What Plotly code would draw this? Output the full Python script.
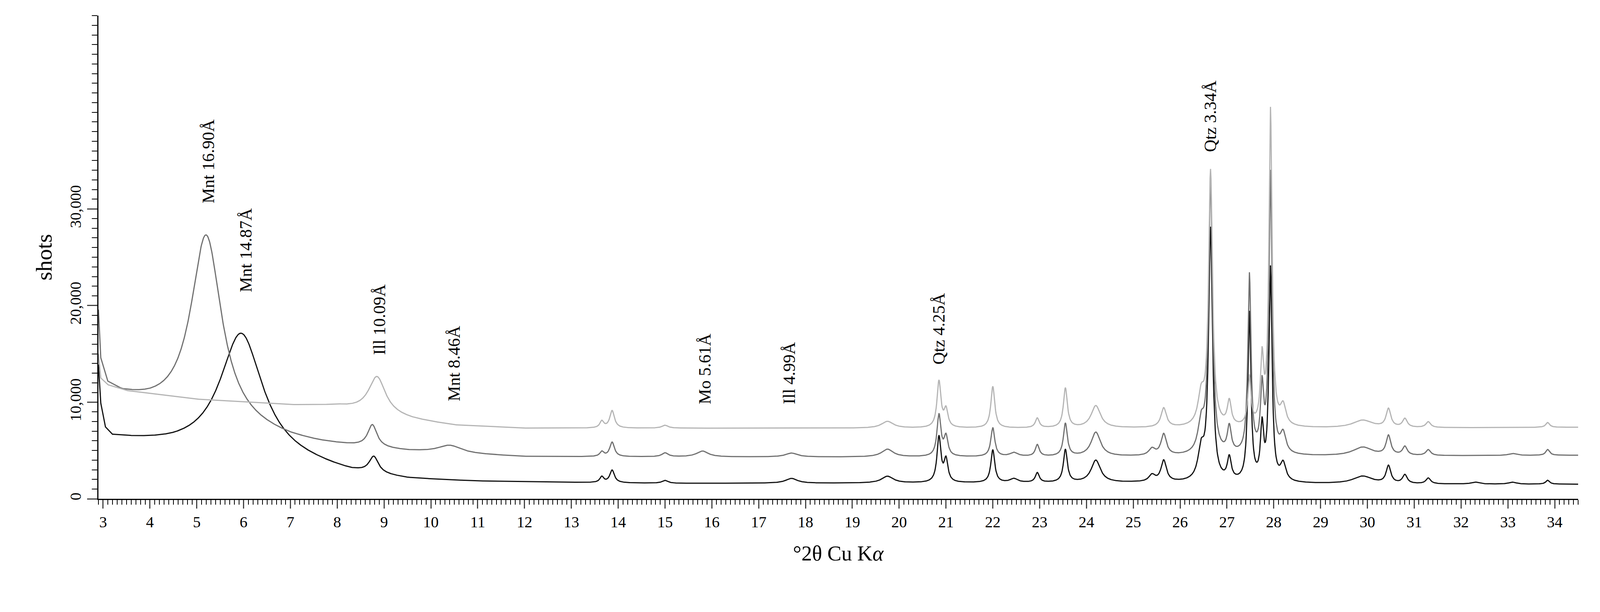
import numpy as np
import plotly.graph_objects as go

# --- data -----------------------------------------------------------------
x_start, x_end = 2.9, 34.5
ad_bg_x = [2.9, 2.95, 3.05, 3.2, 3.6, 4.5, 5.5, 6.5, 7.5, 8.3, 9.5, 11, 15, 20, 25, 30, 34.5]
ad_bg_y = [13500, 9500, 7000, 6200, 5900, 5300, 4800, 4200, 3300, 2500, 1900, 1700, 1550, 1600, 1650, 1500, 1500]
g_bg_x = [2.9, 2.95, 3.1, 3.4, 4.0, 5.0, 6.0, 7.0, 7.6, 8.3, 9.5, 12, 20, 30, 34.5]
g_bg_y = [19000, 14000, 11500, 10500, 9500, 8000, 7000, 6000, 5600, 5300, 4800, 4300, 4300, 4400, 4500]
h_bg_x = [2.9, 2.95, 3.1, 3.5, 5.0, 7.0, 8.0, 9.6, 10.5, 12, 20, 30, 34.5]
h_bg_y = [15000, 12500, 11800, 11200, 10300, 9700, 9600, 8200, 7600, 7300, 7300, 7300, 7400]

ad_pk_c = [5.95, 8.78, 13.65, 13.87, 15.0, 17.7, 19.75, 20.85, 21.0, 22.0, 22.45, 22.95, 23.55, 24.2, 25.4, 25.65, 26.45, 26.65, 27.05, 27.48, 27.75, 27.93, 28.2, 29.9, 30.45, 30.8, 31.3, 32.3, 33.1, 33.85]
ad_pk_h = [12600, 1700, 600, 1300, 300, 500, 700, 4700, 2300, 3400, 400, 1000, 3400, 2300, 700, 2200, 3000, 26000, 2300, 17400, 5400, 22000, 1800, 800, 1800, 900, 600, 200, 200, 400]
ad_pk_w = [0.55, 0.12, 0.05, 0.06, 0.08, 0.15, 0.15, 0.05, 0.05, 0.05, 0.1, 0.05, 0.05, 0.12, 0.08, 0.07, 0.08, 0.05, 0.05, 0.04, 0.04, 0.04, 0.07, 0.25, 0.06, 0.06, 0.06, 0.1, 0.1, 0.05]
g_pk_c = [5.2, 8.75, 10.4, 13.65, 13.87, 15.0, 15.8, 17.7, 19.75, 20.85, 21.0, 22.0, 22.45, 22.95, 23.55, 24.2, 25.4, 25.65, 26.45, 26.65, 27.05, 27.48, 27.75, 27.93, 28.2, 29.9, 30.45, 30.8, 31.3, 33.1, 33.85]
g_pk_h = [19500, 2300, 800, 500, 1500, 400, 600, 400, 800, 4300, 2000, 3000, 400, 1200, 3400, 2500, 700, 2200, 3000, 28000, 2700, 18500, 6500, 29000, 2000, 900, 2000, 900, 600, 200, 600]
g_pk_w = [0.4, 0.12, 0.3, 0.05, 0.06, 0.08, 0.15, 0.15, 0.15, 0.05, 0.05, 0.05, 0.1, 0.05, 0.05, 0.12, 0.08, 0.07, 0.08, 0.05, 0.05, 0.04, 0.04, 0.04, 0.07, 0.25, 0.06, 0.06, 0.06, 0.1, 0.05]
h_pk_c = [8.85, 13.65, 13.87, 15.0, 19.75, 20.85, 21.0, 22.0, 22.95, 23.55, 24.2, 25.65, 26.45, 26.65, 27.05, 27.48, 27.75, 27.93, 28.2, 29.9, 30.45, 30.8, 31.3, 33.85]
h_pk_h = [3800, 700, 1800, 300, 700, 4800, 1800, 4300, 1000, 4100, 2300, 2000, 3000, 26300, 2500, 5000, 6700, 32700, 2000, 800, 1900, 900, 600, 500]
h_pk_w = [0.22, 0.05, 0.06, 0.08, 0.15, 0.05, 0.05, 0.05, 0.05, 0.05, 0.12, 0.07, 0.08, 0.05, 0.05, 0.04, 0.04, 0.04, 0.07, 0.25, 0.06, 0.06, 0.06, 0.05]

series_names = ["AD", "G", "H"]
series_colors = ["#111111", "#707070", "#b4b4b4"]
label_y = [1300, 3400, 6100]

ann_text = ["Mnt 16.90Å", "Mnt 14.87Å", "Ill 10.09Å", "Mnt 8.46Å", "Mo 5.61Å", "Ill 4.99Å", "Qtz 4.25Å", "Qtz 3.34Å"]
ann_x = [5.25, 6.05, 8.9, 10.5, 15.85, 17.65, 20.85, 26.65]
ann_y = [30500, 21300, 14800, 10000, 9700, 9700, 13800, 35800]

# --- build ----------------------------------------------------------------
x = np.arange(x_start, x_end + 1e-9, 0.01)

def trace_y(bx, by, c, h, w):
    y = np.interp(x, bx, by)
    for ci, hi, wi in zip(c, h, w):
        y = y + hi * wi**2 / ((x - ci) ** 2 + wi**2)
    return y

ys = [trace_y(ad_bg_x, ad_bg_y, ad_pk_c, ad_pk_h, ad_pk_w),
      trace_y(g_bg_x, g_bg_y, g_pk_c, g_pk_h, g_pk_w),
      trace_y(h_bg_x, h_bg_y, h_pk_c, h_pk_h, h_pk_w)]

fig = go.Figure()
for name, col, y in zip(series_names, series_colors, ys):
    fig.add_trace(go.Scatter(x=x, y=y, mode="lines", name=name,
                             line=dict(color=col, width=3)))
for name, col, ly in zip(series_names, series_colors, label_y):
    fig.add_annotation(x=34.55, y=ly, text=name, showarrow=False, xanchor="left",
                       font=dict(size=44, color=col))
for t, ax_, ay_ in zip(ann_text, ann_x, ann_y):
    fig.add_annotation(x=ax_, y=ay_, text=t, showarrow=False, textangle=-90,
                       xanchor="center", yanchor="bottom", font=dict(size=44, color="black"))

font = "Liberation Serif"
fig.update_layout(
    width=4160, height=1500, showlegend=False,
    plot_bgcolor="white", paper_bgcolor="white",
    margin=dict(l=244, r=128, t=32, b=230),
    font=dict(family=font, color="black"),
    xaxis=dict(range=[x_start, x_end], tickmode="linear", tick0=3, dtick=1,
               ticks="outside", ticklen=22, tickwidth=3, showline=True, linecolor="black",
               linewidth=3, showgrid=False, zeroline=False, tickfont=dict(size=40),
               minor=dict(dtick=0.1, tick0=3, ticks="outside", ticklen=12, tickwidth=2,
                          showgrid=False, tickcolor="black"),
               title=dict(text="°2θ Cu K<i>α</i>", font=dict(size=54), standoff=40)),
    yaxis=dict(range=[0, 50000], tickvals=[0, 10000, 20000, 30000],
               ticktext=["0", "10,000", "20,000", "30,000"], tickangle=-90,
               ticks="outside", ticklen=26, tickwidth=3, showline=True, linecolor="black",
               linewidth=3, showgrid=False, zeroline=False, tickfont=dict(size=40),
               minor=dict(dtick=1000, ticks="outside", ticklen=14, tickwidth=2,
                          showgrid=False, tickcolor="black"),
               title=dict(text="shots", font=dict(size=58), standoff=20)),
)
fig.write_html("out.html")
